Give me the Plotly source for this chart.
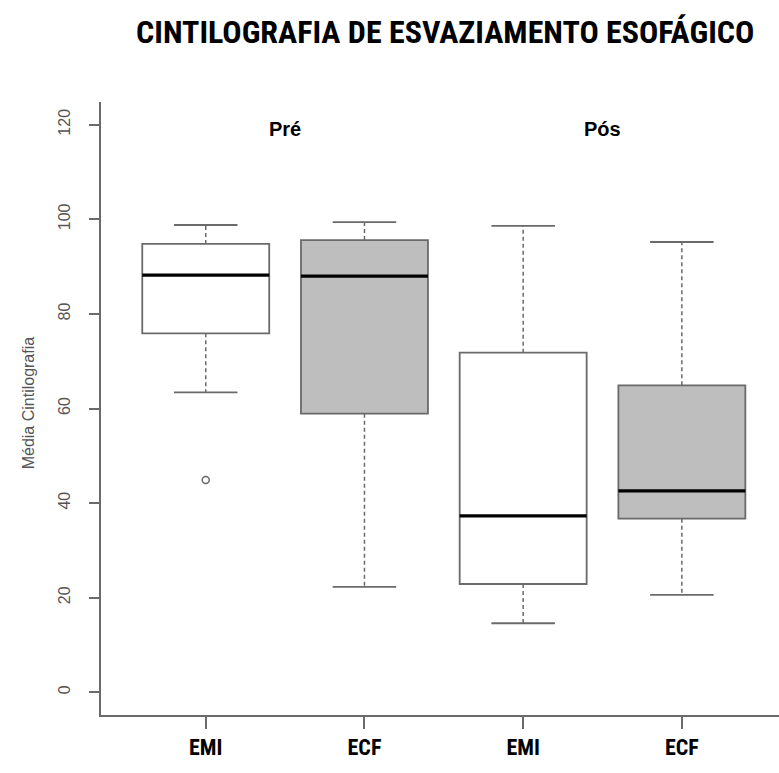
import plotly.graph_objects as go

# ---- data ----
groups = ["EMI", "ECF", "EMI", "ECF"]
fills = ["#ffffff", "#bebebe", "#ffffff", "#bebebe"]
lower_whisker = [63.4, 22.3, 14.6, 20.6]
q1 = [75.9, 58.9, 22.9, 36.7]
median = [88.2, 88.0, 37.3, 42.6]
q3 = [94.8, 95.6, 71.8, 64.9]
upper_whisker = [98.8, 99.4, 98.6, 95.2]
outlier_group = [1]
outlier_value = [44.9]
period_labels = ["Pré", "Pós"]
period_pos = [1.5, 3.5]
y_ticks = [0, 20, 40, 60, 80, 100, 120]

BOXW = 0.8
CAPW = 0.4
GRAY = "#6a6a6a"
NARROW = "Liberation Sans Narrow, Arial Narrow, Roboto Condensed, Liberation Sans, sans-serif"
SANS = "Liberation Sans, Arial, sans-serif"

fig = go.Figure()
shapes = []
for i, g in enumerate(groups):
    x = i + 1
    # whiskers (dashed)
    shapes.append(dict(type="line", xref="x", yref="y", x0=x, x1=x, y0=q3[i], y1=upper_whisker[i],
                       line=dict(color=GRAY, width=1.5, dash="4px,3px")))
    shapes.append(dict(type="line", xref="x", yref="y", x0=x, x1=x, y0=q1[i], y1=lower_whisker[i],
                       line=dict(color=GRAY, width=1.5, dash="4px,3px")))
    # caps
    for v in (upper_whisker[i], lower_whisker[i]):
        shapes.append(dict(type="line", xref="x", yref="y", x0=x - CAPW / 2, x1=x + CAPW / 2, y0=v, y1=v,
                           line=dict(color=GRAY, width=1.8)))
    # box
    shapes.append(dict(type="rect", xref="x", yref="y", x0=x - BOXW / 2, x1=x + BOXW / 2, y0=q1[i], y1=q3[i],
                       fillcolor=fills[i], line=dict(color=GRAY, width=1.8)))
    # median
    shapes.append(dict(type="line", xref="x", yref="y", x0=x - BOXW / 2, x1=x + BOXW / 2,
                       y0=median[i], y1=median[i], line=dict(color="#000000", width=3.2)))

fig.add_trace(go.Scatter(x=outlier_group, y=outlier_value, mode="markers",
                         marker=dict(symbol="circle-open", size=7, color=GRAY, line=dict(width=1.5)),
                         showlegend=False, hoverinfo="y"))

annotations = [
    dict(text="CINTILOGRAFIA DE ESVAZIAMENTO ESOFÁGICO", xref="paper", yref="paper",
         x=0.508, y=1.114, xanchor="center", yanchor="middle", showarrow=False,
         font=dict(family=NARROW, size=32, color="#000000", weight="bold")),
    dict(text="Média Cintilografia", xref="paper", yref="paper", x=-0.1077, y=0.51,
         xanchor="center", yanchor="middle", textangle=-90, showarrow=False,
         font=dict(family=SANS, size=16, color="#555555")),
]
for lbl, px in zip(period_labels, period_pos):
    annotations.append(dict(text=lbl, xref="x", yref="y", x=px, y=119, xanchor="center", yanchor="middle",
                            showarrow=False, font=dict(family=SANS, size=20, color="#000000", weight="bold")))

fig.update_layout(
    width=779, height=773,
    margin=dict(l=101, r=0, t=102, b=58),
    paper_bgcolor="white", plot_bgcolor="white",
    shapes=shapes, annotations=annotations, showlegend=False,
    xaxis=dict(range=[0.34, 4.612], tickmode="array", tickvals=[i + 1 for i in range(len(groups))],
               ticktext=groups, showline=True, linecolor=GRAY, linewidth=1.5, ticks="outside",
               ticklen=12, tickwidth=1.5, tickcolor=GRAY, showgrid=False, zeroline=False,
               tickfont=dict(family=NARROW, size=22, color="#000000", weight="bold"),
               ticklabelstandoff=0),
    yaxis=dict(range=[-4.8, 124.8], tickmode="array", tickvals=y_ticks, ticktext=[str(v) for v in y_ticks],
               tickangle=-90, showline=True, linecolor=GRAY, linewidth=1.5, ticks="outside",
               ticklen=10, tickwidth=1.5, tickcolor=GRAY, showgrid=False, zeroline=False,
               tickfont=dict(family=SANS, size=16, color="#555555"), ticklabelstandoff=13),
)

fig.write_html("out.html")
